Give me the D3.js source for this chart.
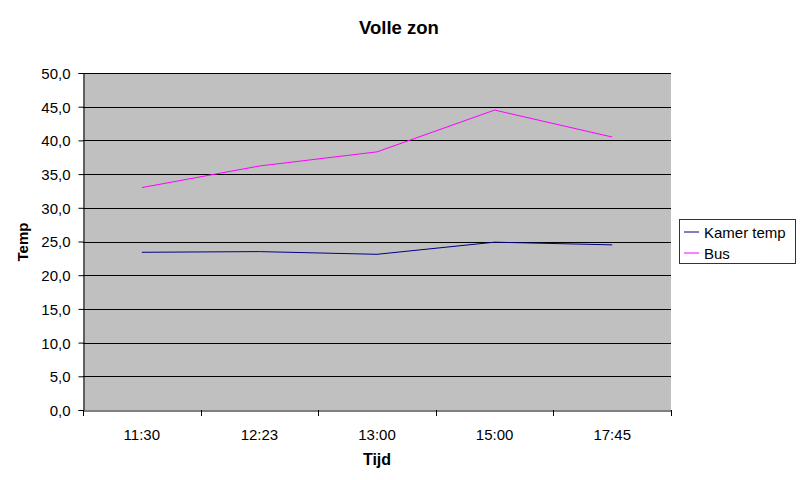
<!DOCTYPE html>
<html><head><meta charset="utf-8">
<script src="https://cdn.jsdelivr.net/npm/d3@7"></script>
<style>body{margin:0;background:#fff}svg{display:block;font-family:"Liberation Sans",Arial,sans-serif}</style>
</head><body><svg id="c" width="800" height="480"></svg>
<script>
const categories = ["11:30","12:23","13:00","15:00","17:45"];
const kamerTemp = [23.4, 23.5, 23.1, 24.9, 24.5];
const bus = [33.0, 36.2, 38.3, 44.5, 40.5];
const yTicks = [0,5,10,15,20,25,30,35,40,45,50];
const seriesNames = ["Kamer temp","Bus"];
const seriesColors = ["#000080","#FF00FF"];

const svg = d3.select("#c");
const L=83, R=671, T=73, B=410;
const x = d3.scaleBand().domain(categories).range([L,R]);
const y = d3.scaleLinear().domain([0,50]).range([B,T]);

svg.append("rect").attr("x",L).attr("y",T).attr("width",R-L).attr("height",B-T).attr("fill","#C0C0C0");

const g = svg.append("g");
g.selectAll("line.grid").data(yTicks.filter(d=>d>0)).join("line")
  .attr("x1",L).attr("x2",R).attr("y1",d=>Math.round(y(d))+0.5).attr("y2",d=>Math.round(y(d))+0.5)
  .attr("stroke","#000").attr("stroke-width",1);

const yAxis = d3.axisLeft(y).tickValues(yTicks).tickSize(5).tickPadding(0).tickFormat(d=>d3.format(".1f")(d).replace(".",","));
const ya = svg.append("g").attr("transform",`translate(${L+0.5},0)`).call(yAxis);
ya.select(".domain").attr("stroke","#000");
ya.selectAll(".tick line").attr("stroke","#000");
ya.selectAll("text").attr("font-size",15).attr("font-family","Liberation Sans, Arial, sans-serif").attr("fill","#000").attr("x",-13).attr("dy","0.36em");

const xa = svg.append("g").attr("transform",`translate(0,${B+0.5})`).call(d3.axisBottom(x).tickSize(0).tickSizeOuter(0).tickPadding(0));
xa.select(".domain").attr("stroke","#000");
xa.selectAll("text").attr("font-size",15).attr("font-family","Liberation Sans, Arial, sans-serif").attr("fill","#000").attr("y",29).attr("dy",0);
// category boundary ticks
const bounds = d3.range(categories.length+1).map(i=>L + i*x.step());
svg.append("g").selectAll("line").data(bounds).join("line")
  .attr("x1",d=>Math.round(d)+0.5).attr("x2",d=>Math.round(d)+0.5).attr("y1",B).attr("y2",B+6).attr("stroke","#000");

const line = d3.line().x((d,i)=>x(categories[i])+x.bandwidth()/2).y(d=>y(d));
[kamerTemp,bus].forEach((s,i)=>{
  svg.append("path").datum(s).attr("d",line).attr("fill","none").attr("stroke",seriesColors[i]).attr("stroke-width",1);
});

svg.append("text").attr("x",399).attr("y",34).attr("text-anchor","middle").attr("font-size",18.5).attr("font-weight","bold").text("Volle zon");
svg.append("text").attr("x",377).attr("y",465).attr("text-anchor","middle").attr("font-size",16).attr("font-weight","bold").text("Tijd");
svg.append("text").attr("transform","translate(28,242) rotate(-90)").attr("text-anchor","middle").attr("font-size",15).attr("font-weight","bold").text("Temp");

const lg = svg.append("g").attr("transform","translate(679,219)");
lg.append("rect").attr("x",0.5).attr("y",0.5).attr("width",116).attr("height",44).attr("fill","#fff").attr("stroke","#333");
seriesNames.forEach((n,i)=>{
  const yy = 12.5 + i*21;
  lg.append("line").attr("x1",5).attr("x2",20).attr("y1",yy+0.5).attr("y2",yy+0.5).attr("stroke",seriesColors[i]);
  lg.append("text").attr("x",25).attr("y",yy+6).attr("font-size",15).text(n);
});
</script></body></html>
